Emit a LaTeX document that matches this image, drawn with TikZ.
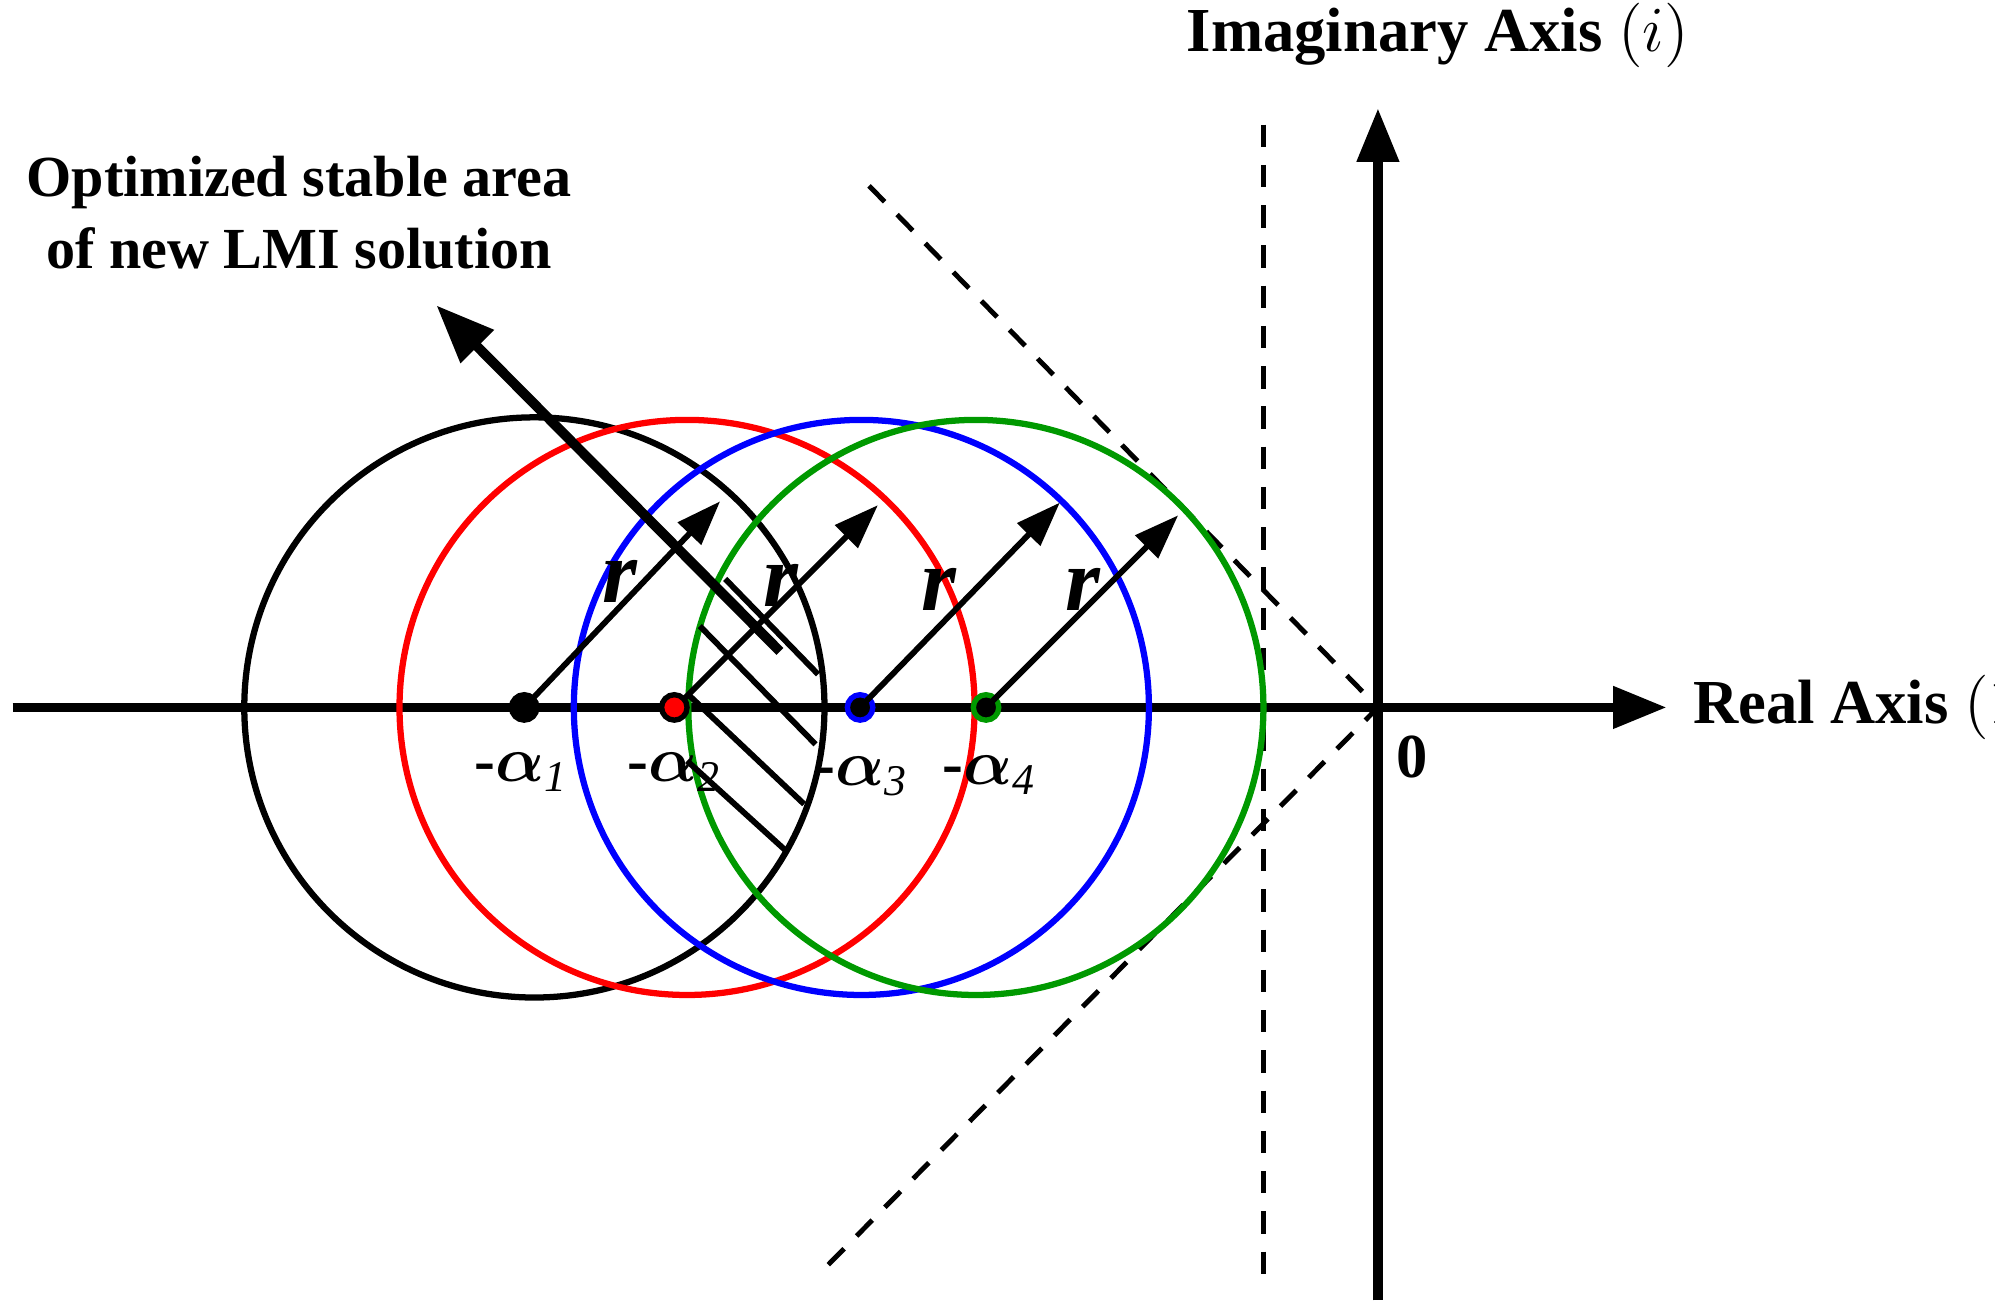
\documentclass[tikz,border=0pt]{standalone}
\usepackage{amsmath,amssymb}
\usepackage{fontspec}
\setmainfont{Liberation Serif}
\usetikzlibrary{arrows.meta,positioning}

\begin{document}
\begin{tikzpicture}[
  axis/.style={line width=2.2pt, -{Triangle[length=12pt, width=9pt]}},
  radarr/.style={line width=1.3pt, -{Triangle[length=10pt, width=7pt]}},
  circ/.style={line width=1.4pt},
  bound/.style={line width=1.1pt, dash pattern=on 5pt off 4pt},
  hatch/.style={line width=1.3pt},
  lbl/.style={font=\fontsize{13}{14}\selectfont\bfseries, inner sep=0pt},
  alab/.style={font=\fontsize{14}{15}\selectfont\bfseries, inner sep=0pt},
  rlab/.style={font=\fontsize{20}{20}\selectfont\bfseries\itshape, inner sep=0pt},
  dot/.style={circle, inner sep=0pt, minimum size=0.2cm, line width=1.2pt, draw=black}
]
\useasboundingbox (0,0) rectangle (15.68,-10.30);

% axes
\coordinate (xl) at (0.10,-5.56);
\coordinate (xr) at (13.10,-5.56);
\coordinate (yb) at (10.83,-10.22);
\coordinate (yt) at (10.83,-0.85);
\draw[axis] (xl) -- (xr);
\draw[axis] (yb) -- (yt);
\node[alab, anchor=west] (realax) at (13.30,-5.56) {Real Axis $(1)$};
\node[alab] (imagax) at (11.30,-0.28) {Imaginary Axis $(i)$};
\node[alab] (zero) at (11.10,-5.95) {0};

% dashed boundaries
\coordinate (vt) at (9.93,-0.98);
\coordinate (vb) at (9.93,-10.15);
\coordinate (dt) at (6.83,-1.46);
\coordinate (dm) at (10.83,-5.56);
\coordinate (db) at (6.50,-9.95);
\draw[bound] (vt) -- (vb);
\draw[bound] (dt) -- (dm) -- (db);

% circles
\draw[circ, black] (4.20,-5.56) circle (2.28);
\draw[circ, red] (5.40,-5.56) circle (2.26);
\draw[circ, blue] (6.77,-5.56) circle (2.26);
\draw[circ, green!60!black] (7.67,-5.56) circle (2.26);

% hatching
\draw[hatch] (5.70,-4.55) -- (6.43,-5.30);
\draw[hatch] (5.50,-4.92) -- (6.41,-5.85);
\draw[hatch] (5.40,-5.45) -- (6.32,-6.32);
\draw[hatch] (5.40,-5.98) -- (6.17,-6.68);

% centres
\node[dot, fill=black] (a1) at (4.12,-5.56) {};
\node[dot, fill=red] (a2) at (5.30,-5.56) {};
\node[dot, draw=blue, fill=black] (a3) at (6.76,-5.56) {};
\node[dot, draw=green!60!black, fill=black] (a4) at (7.75,-5.56) {};
\node[alab] (la1) at (4.10,-6.07) {-$\boldsymbol{\alpha}_{\mathit{1}}$};
\node[alab] (la2) at (5.30,-6.07) {-$\boldsymbol{\alpha}_{\mathit{2}}$};
\node[alab] (la3) at (6.77,-6.10) {-$\boldsymbol{\alpha}_{\mathit{3}}$};
\node[alab] (la4) at (7.78,-6.09) {-$\boldsymbol{\alpha}_{\mathit{4}}$};

% radius arrows
\coordinate (r1) at (5.66,-3.94);
\coordinate (r2) at (6.90,-3.97);
\coordinate (r3) at (8.33,-3.95);
\coordinate (r4) at (9.26,-4.05);
\draw[radarr] (a1.center) -- (r1);
\draw[radarr] (5.37,-5.50) -- (r2);
\draw[radarr] (a3.center) -- (r3);
\draw[radarr] (a4.center) -- (r4);
\node[rlab] (rl1) at (4.87,-4.57) {r};
\node[rlab] (rl2) at (6.14,-4.60) {r};
\node[rlab] (rl3) at (7.38,-4.63) {r};
\node[rlab] (rl4) at (8.51,-4.63) {r};

% stable area pointer
\node[lbl, align=center] (opt) at (2.35,-1.67) {Optimized stable area\\[2pt] of new LMI solution};
\coordinate (ps) at (6.13,-5.12);
\coordinate (pe) at (3.43,-2.40);
\draw[line width=2.2pt, -{Triangle[length=13pt, width=10pt]}] (ps) -- (pe);

\end{tikzpicture}
\end{document}
